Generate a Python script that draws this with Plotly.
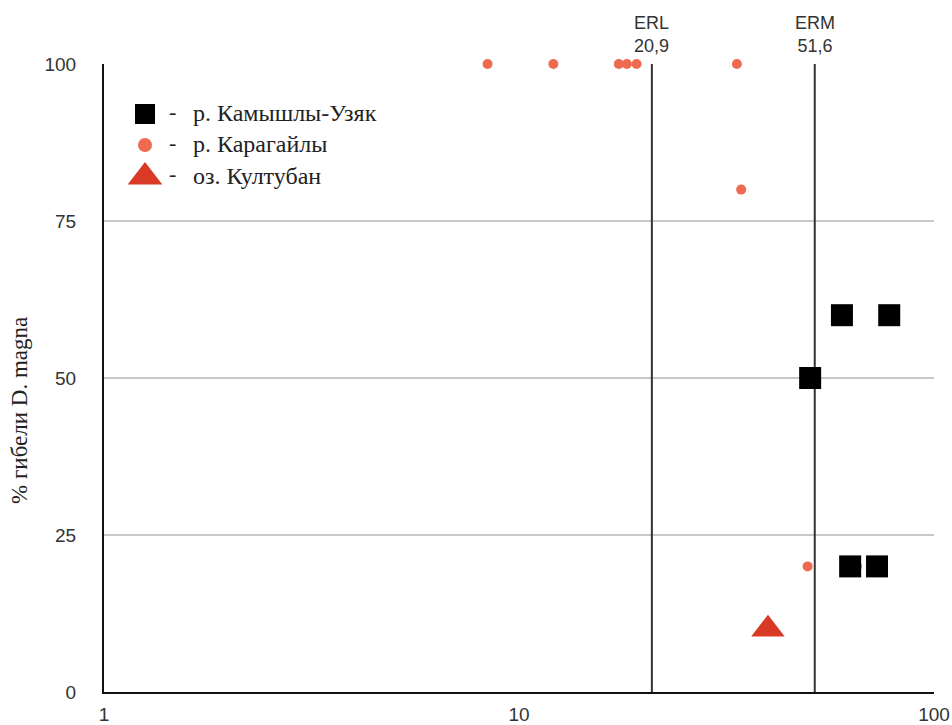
import numpy as np
import plotly.graph_objects as go

# Sediment concentration (log scale) vs. % mortality of D. magna
kamyshly_x = [60.0, 78.0, 50.3, 62.8, 72.9]
kamyshly_y = [60, 60, 50, 20, 20]

karagaily_x = [8.4, 12.1, 17.4, 18.2, 19.2, 33.5, 34.3, 49.6, 65.2]
karagaily_y = [100, 100, 100, 100, 100, 100, 80, 20, 20]

kultuban_x = [39.8]
kultuban_y = [10]

# Sediment quality guidelines
guide_names = ["ERL", "ERM"]
guide_values = [20.9, 51.6]

y_ticks = [0, 25, 50, 75, 100]
x_ticks = [1, 10, 100]

legend_labels = ["р. Камышлы-Узяк", "р. Карагайлы", "оз. Култубан"]

SQ_COLOR = "#000000"
DOT_COLOR = "#EE6A50"
TRI_COLOR = "#D93A26"

W, H = 952, 725
ML, MR, MT, MB = 104, 18, 64, 33
PW, PH = W - ML - MR, H - MT - MB


def px_to_paper(px, py):
    return (px - ML) / PW, (H - MB - py) / PH


fig = go.Figure()

# vertical guideline lines (drawn below the markers)
for v in guide_values:
    fig.add_trace(go.Scatter(
        x=[v, v], y=[0, 100], mode="lines",
        line=dict(color="#333333", width=2),
        hoverinfo="skip", showlegend=False,
    ))

fig.add_trace(go.Scatter(
    x=karagaily_x, y=karagaily_y, mode="markers", name=legend_labels[1],
    marker=dict(symbol="circle", size=10, color=DOT_COLOR),
    cliponaxis=False, showlegend=False,
))
fig.add_trace(go.Scatter(
    x=kamyshly_x, y=kamyshly_y, mode="markers", name=legend_labels[0],
    marker=dict(symbol="square", size=22, color=SQ_COLOR),
    cliponaxis=False, showlegend=False,
))
fig.add_trace(go.Scatter(
    x=kultuban_x, y=kultuban_y, mode="markers", name=legend_labels[2],
    marker=dict(symbol="triangle-up", size=29, color=TRI_COLOR),
    cliponaxis=False, showlegend=False,
))

# Legend block: symbols on an overlay axis spanning the plot area
leg_rows_py = [114, 145, 177]
leg_sym_px = 145
leg_symbols = [("square", 20, SQ_COLOR), ("circle", 14, DOT_COLOR), ("triangle-up", 30, TRI_COLOR)]
for (sym, size, col), py in zip(leg_symbols, leg_rows_py):
    xp, yp = px_to_paper(leg_sym_px, py)
    fig.add_trace(go.Scatter(
        x=[xp], y=[yp], xaxis="x2", yaxis="y2", mode="markers",
        marker=dict(symbol=sym, size=size, color=col),
        hoverinfo="skip", showlegend=False, cliponaxis=False,
    ))

annotations = []
serif = "Liberation Serif, Times New Roman, serif"
sans = "Liberation Sans, Arial, sans-serif"
for label, py in zip(legend_labels, leg_rows_py):
    xd, yp = px_to_paper(172, py - 3)
    annotations.append(dict(x=xd, y=yp, xref="paper", yref="paper", text="-",
                            showarrow=False, xanchor="center", yanchor="middle",
                            font=dict(family=serif, size=22, color="#222222")))
    xt, yt = px_to_paper(191, py - 1)
    annotations.append(dict(x=xt, y=yt, xref="paper", yref="paper", text=label,
                            showarrow=False, xanchor="left", yanchor="middle",
                            font=dict(family=serif, size=24, color="#222222")))

# guideline labels above the plot
for name, v in zip(guide_names, guide_values):
    annotations.append(dict(x=np.log10(v), y=100, xref="x", yref="y",
                            text=f"{name}<br>{str(v).replace('.', ',')}",
                            showarrow=False, xanchor="center", yanchor="bottom",
                            yshift=6,
                            font=dict(family=sans, size=18, color="#333333")))

# y-axis title
xt, yt = px_to_paper(19, 411)
annotations.append(dict(x=xt, y=yt, xref="paper", yref="paper",
                        text="% гибели D. magna", textangle=-90, showarrow=False,
                        xanchor="center", yanchor="middle",
                        font=dict(family=serif, size=23, color="#222222")))

fig.update_layout(
    width=W, height=H,
    margin=dict(l=ML, r=MR, t=MT, b=MB, pad=0, autoexpand=False),
    plot_bgcolor="white", paper_bgcolor="white",
    showlegend=False,
    annotations=annotations,
    xaxis=dict(
        type="log", range=[0, 2], tickvals=x_ticks, ticktext=[str(t) for t in x_ticks],
        showgrid=False, zeroline=False, automargin=False,
        showline=True, linecolor="#111111", linewidth=2,
        ticks="outside", ticklen=4, tickcolor="rgba(0,0,0,0)",
        tickfont=dict(family=sans, size=19, color="#333333"),
    ),
    yaxis=dict(
        range=[0, 100], tickvals=y_ticks, automargin=False,
        showgrid=True, gridcolor="#c8c8c8", gridwidth=1.5,
        zeroline=False,
        showline=True, linecolor="#111111", linewidth=2,
        ticks="outside", ticklen=22, tickcolor="rgba(0,0,0,0)",
        tickfont=dict(family=sans, size=19, color="#333333"),
    ),
    xaxis2=dict(overlaying="x", range=[0, 1], visible=False, anchor="y2"),
    yaxis2=dict(overlaying="y", range=[0, 1], visible=False, anchor="x2"),
)

fig.write_html("out.html")
